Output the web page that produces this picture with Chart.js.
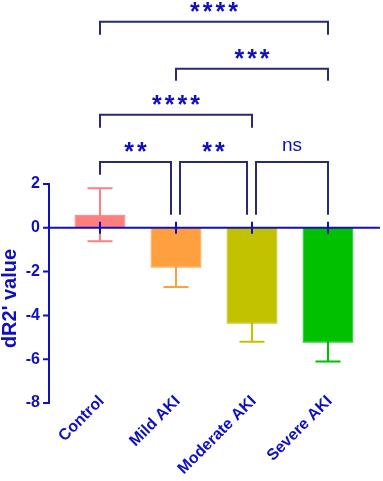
<!DOCTYPE html>
<html>
<head>
<meta charset="utf-8">
<script src="https://cdn.jsdelivr.net/npm/chart.js@4/dist/chart.umd.min.js"></script>
<style>
  html, body { margin: 0; padding: 0; background: #fff; }
  #wrap { width: 383px; height: 481px; }
</style>
</head>
<body>
<div id="wrap"><canvas id="myChart"></canvas></div>
<script>
"use strict";

// groups and values (mean +/- SD)
const groups = ["Control", "Mild AKI", "Moderate AKI", "Severe AKI"];
const means = [0.6, -1.83, -4.38, -5.25];
const sds = [1.21, 0.87, 0.82, 0.85];
const barColors = ["#ff7f7f", "#ffa040", "#c2c200", "#00c000"];
const borderColors = ["#ff7373", "#ff9630", "#b8b800", "#00b400"];

// y ticks that are shown
const yTicks = [2, 0, -2, -4, -6, -8];
const yTitle = "dR2' value";

// significance brackets
const cmpFrom = [0, 1, 2, 0, 1, 0];
const cmpTo = [1, 2, 3, 2, 3, 3];
const cmpLevel = [3.0, 3.0, 3.0, 5.16, 7.26, 9.41];
const cmpLeftEnd = [2.42, 0.59, 0.59, 4.57, 6.71, 8.81];
const cmpRightEnd = [0.59, 0.59, 0.59, 4.57, 6.71, 8.81];
const cmpLabel = ["**", "**", "ns", "****", "***", "****"];

const axisBlue = "#1010bc";
const bracketColor = "#262c6c";
const fontFamily = "'Liberation Sans', Arial, sans-serif";

// error bars, drawn behind the bars
const errorBars = {
    id: "errorBars",
    beforeDatasetsDraw(chart) {
        let ctx = chart.ctx;
        let y = chart.scales.y;
        let meta = chart.getDatasetMeta(0);
        ctx.save();
        ctx.lineWidth = 2;
        for (let i = 0; i < means.length; i++) {
            let x = meta.data[i].x;
            let hi = y.getPixelForValue(means[i] + sds[i]);
            let lo = y.getPixelForValue(means[i] - sds[i]);
            ctx.strokeStyle = barColors[i];
            ctx.beginPath();
            ctx.moveTo(x, hi); ctx.lineTo(x, lo);
            ctx.moveTo(x - 12.5, hi); ctx.lineTo(x + 12.5, hi);
            ctx.moveTo(x - 12.5, lo); ctx.lineTo(x + 12.5, lo);
            ctx.stroke();
        }
        ctx.restore();
    }
};

// axis lines, zero line, axis texts and brackets
const overlay = {
    id: "overlay",
    afterDatasetsDraw(chart) {
        let ctx = chart.ctx;
        let y = chart.scales.y;
        let meta = chart.getDatasetMeta(0);
        let area = chart.chartArea;
        let ax = area.left - 13;
        let y0 = y.getPixelForValue(0);
        let yTop = y.getPixelForValue(yTicks[0]);
        let yBot = y.getPixelForValue(yTicks[yTicks.length - 1]);
        ctx.save();
        ctx.strokeStyle = axisBlue;
        ctx.lineWidth = 2;
        ctx.beginPath();
        ctx.moveTo(ax, yTop - 1);
        ctx.lineTo(ax, yBot + 1);
        yTicks.forEach(function (t) {
            let py = y.getPixelForValue(t);
            ctx.moveTo(ax - 6, py); ctx.lineTo(ax, py);
        });
        ctx.moveTo(ax, y0); ctx.lineTo(area.right + 14, y0);
        for (let i = 0; i < groups.length; i++) {
            let x = meta.data[i].x;
            ctx.moveTo(x, y0 - 6); ctx.lineTo(x, y0 + 6);
        }
        ctx.stroke();

        ctx.fillStyle = axisBlue;

        // y title centred on the drawn axis
        ctx.save();
        ctx.translate(10, (yTop + yBot) / 2 + 5);
        ctx.rotate(-Math.PI / 2);
        ctx.font = "bold 20px " + fontFamily;
        ctx.textAlign = "center";
        ctx.textBaseline = "middle";
        ctx.fillText(yTitle, 0, 0);
        ctx.restore();

        // category labels at 45 degrees
        ctx.font = "bold 16px " + fontFamily;
        ctx.textAlign = "right";
        ctx.textBaseline = "top";
        for (let i = 0; i < groups.length; i++) {
            ctx.save();
            ctx.translate(meta.data[i].x - 4, yBot - 10);
            ctx.rotate(-Math.PI / 4);
            ctx.fillText(groups[i], 0, 0);
            ctx.restore();
        }

        // brackets
        ctx.strokeStyle = bracketColor;
        ctx.lineWidth = 2;
        ctx.textAlign = "center";
        ctx.textBaseline = "middle";
        for (let k = 0; k < cmpLabel.length; k++) {
            let x1 = meta.data[cmpFrom[k]].x;
            let x2 = meta.data[cmpTo[k]].x;
            // shrink where two brackets on the same level meet
            for (let j = 0; j < cmpLabel.length; j++) {
                if (j === k || cmpLevel[j] !== cmpLevel[k]) continue;
                if (cmpTo[j] === cmpFrom[k]) x1 += 4;
                if (cmpFrom[j] === cmpTo[k]) x2 -= 5;
            }
            let py = y.getPixelForValue(cmpLevel[k]);
            ctx.beginPath();
            ctx.moveTo(x1, y.getPixelForValue(cmpLeftEnd[k]));
            ctx.lineTo(x1, py);
            ctx.lineTo(x2, py);
            ctx.lineTo(x2, y.getPixelForValue(cmpRightEnd[k]));
            ctx.stroke();

            if (cmpLabel[k] === "ns") {
                ctx.font = "19px " + fontFamily;
                ctx.fillText(cmpLabel[k], (x1 + x2) / 2, py - 16);
            } else {
                ctx.font = "bold 25px " + fontFamily;
                ctx.letterSpacing = "3px";
                ctx.fillText(cmpLabel[k], (x1 + x2) / 2 + 1.5, py - 9);
                ctx.letterSpacing = "0px";
            }
        }
        ctx.restore();
    }
};

new Chart(document.getElementById("myChart"), {
    type: "bar",
    data: {
        labels: groups,
        datasets: [{
            data: means,
            backgroundColor: barColors,
            borderColor: borderColors,
            borderWidth: 1,
            barPercentage: 0.67,
            categoryPercentage: 1
        }]
    },
    options: {
        responsive: true,
        maintainAspectRatio: false,
        animation: false,
        layout: { padding: { top: 0, right: 17, left: 0, bottom: 0 } },
        plugins: {
            legend: { display: false },
            tooltip: { enabled: false }
        },
        scales: {
            x: {
                grid: { display: false, drawTicks: false },
                border: { display: false },
                ticks: { display: false },
                afterFit: function (s) {
                    s.height = 78;
                    s.paddingLeft = 0; s.paddingRight = 0;
                    s.paddingTop = 0; s.paddingBottom = 0;
                }
            },
            y: {
                min: -8,
                max: 10.4,
                grid: { display: false, drawTicks: false },
                border: { display: false },
                afterFit: function (s) {
                    s.width = 62;
                    s.paddingTop = 0; s.paddingBottom = 0;
                },
                afterBuildTicks: function (s) {
                    s.ticks = yTicks.map(function (v) { return { value: v }; });
                },
                ticks: {
                    color: axisBlue,
                    padding: 22,
                    font: { family: fontFamily, size: 16, weight: "bold" }
                }
            }
        }
    },
    plugins: [errorBars, overlay]
});
</script>
</body>
</html>
